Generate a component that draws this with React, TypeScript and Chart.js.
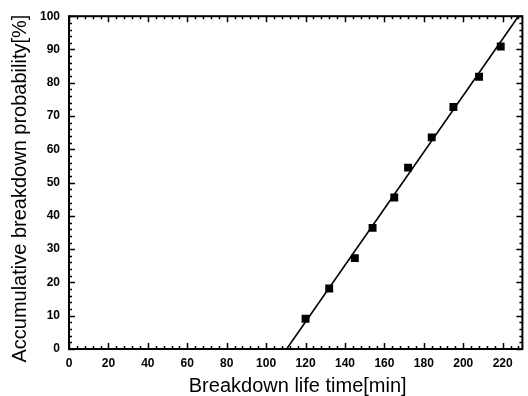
import React, { useEffect, useRef } from "react";
import { Chart, registerables } from "chart.js";

Chart.register(...registerables);

// Measured breakdown events
const lifeTimes = [120, 132, 145, 154, 165, 172, 184, 195, 208, 219];
const probabilities = [9.1, 18.2, 27.3, 36.4, 45.5, 54.5, 63.6, 72.7, 81.8, 90.9];

// Linear fit through the events
const fitTimes = [110.4, 228];
const fitProbabilities = [0, 100];

// Axis ticks
const xTickValues = [0, 20, 40, 60, 80, 100, 120, 140, 160, 180, 200, 220];
const yTickValues = [0, 10, 20, 30, 40, 50, 60, 70, 80, 90, 100];
const xMinorStep = 4;
const yMinorStep = 2;

const xTitle = "Breakdown life time[min]";
const yTitle = "Accumulative breakdown probability[%]";

const FONT = "'Liberation Sans', Arial, sans-serif";

// Draws the boxed frame with inward major and minor ticks on all four sides,
// plus the two axis titles
const framePlugin = {
  id: "frameTicks",
  afterDraw(chart: any) {
    const { ctx, chartArea } = chart;
    const xs = chart.scales.x;
    const ys = chart.scales.y;
    const { left, right, top, bottom } = chartArea;
    ctx.save();
    ctx.strokeStyle = "#000";
    ctx.lineWidth = 1.5;
    ctx.beginPath();
    const majorLen = 6;
    const minorLen = 3;
    for (let v = xs.min; v <= xs.max + 1e-9; v += xMinorStep) {
      const px = Math.round(xs.getPixelForValue(v)) + 0.5;
      const len = v % 20 === 0 ? majorLen : minorLen;
      ctx.moveTo(px, bottom);
      ctx.lineTo(px, bottom - len);
      ctx.moveTo(px, top);
      ctx.lineTo(px, top + len);
    }
    for (let v = ys.min; v <= ys.max + 1e-9; v += yMinorStep) {
      const py = Math.round(ys.getPixelForValue(v)) + 0.5;
      const len = v % 10 === 0 ? majorLen : minorLen;
      ctx.moveTo(left, py);
      ctx.lineTo(left + len, py);
      ctx.moveTo(right, py);
      ctx.lineTo(right - len, py);
    }
    ctx.stroke();
    ctx.lineWidth = 2;
    ctx.strokeRect(left, top, right - left, bottom - top);

    ctx.fillStyle = "#000";
    ctx.font = `20px ${FONT}`;
    ctx.textAlign = "center";
    ctx.textBaseline = "middle";
    ctx.fillText(xTitle, (left + right) / 2 + 2, 386);
    ctx.translate(20, (top + bottom) / 2 + 6);
    ctx.rotate(-Math.PI / 2);
    ctx.fillText(yTitle, 0, 0);
    ctx.restore();
  },
};

export default function App() {
  const canvasRef = useRef<HTMLCanvasElement | null>(null);

  useEffect(() => {
    const canvas = canvasRef.current;
    if (!canvas) return;
    const chart = new Chart(canvas, {
      type: "scatter",
      data: {
        datasets: [
          {
            label: "fit",
            type: "line",
            data: fitTimes.map((x, i) => ({ x, y: fitProbabilities[i] })),
            borderColor: "#000",
            borderWidth: 1.6,
            pointRadius: 0,
            fill: false,
            showLine: true,
          },
          {
            label: "events",
            data: lifeTimes.map((x, i) => ({ x, y: probabilities[i] })),
            backgroundColor: "#000",
            borderColor: "#000",
            pointStyle: "rect",
            pointRadius: 5.6,
            borderWidth: 0,
          },
        ],
      },
      options: {
        animation: false,
        responsive: false,
        maintainAspectRatio: false,
        layout: { padding: { left: 0, right: 2, top: 15, bottom: 0 } },
        plugins: {
          legend: { display: false },
          tooltip: { enabled: false },
        },
        scales: {
          x: {
            type: "linear",
            min: 0,
            max: 230,
            grid: { display: false, drawTicks: false },
            border: { display: false },
            afterBuildTicks: (scale: any) => {
              scale.ticks = xTickValues.map((value) => ({ value }));
            },
            afterFit: (scale: any) => {
              scale.height = 47;
            },
            ticks: {
              color: "#000",
              padding: 7,
              maxRotation: 0,
              autoSkip: false,
              font: { family: FONT, size: 12, weight: "bold" },
            },
          },
          y: {
            type: "linear",
            min: 0,
            max: 100,
            grid: { display: false, drawTicks: false },
            border: { display: false },
            afterBuildTicks: (scale: any) => {
              scale.ticks = yTickValues.map((value) => ({ value }));
            },
            afterFit: (scale: any) => {
              scale.width = 69;
            },
            ticks: {
              color: "#000",
              padding: 9,
              autoSkip: false,
              font: { family: FONT, size: 12, weight: "bold" },
            },
          },
        },
      },
      plugins: [framePlugin],
    } as any);
    return () => chart.destroy();
  }, []);

  return (
    <div
      style={{
        position: "fixed",
        left: 0,
        top: 0,
        width: 528,
        height: 396,
        background: "#fff",
      }}
    >
      <canvas ref={canvasRef} width={528} height={396} />
    </div>
  );
}
